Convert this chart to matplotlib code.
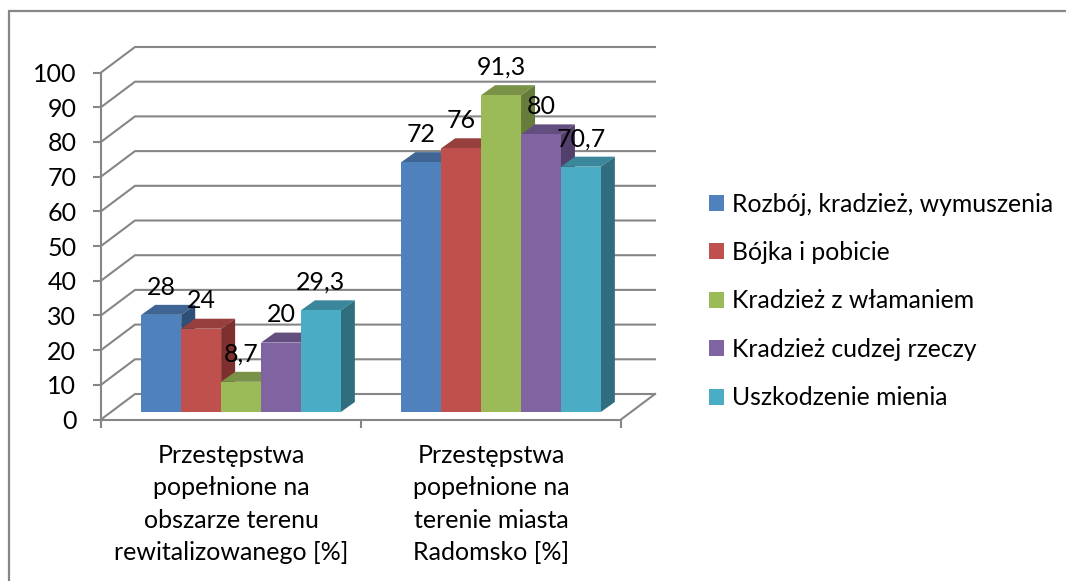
import matplotlib
matplotlib.use('Agg')
import matplotlib.pyplot as plt
from matplotlib.patches import Patch

plt.rcParams['font.family'] = ['Lato', 'DejaVu Sans']

# Data
categories = ['Przestępstwa\npopełnione na\nobszarze terenu\nrewitalizowanego [%]',
              'Przestępstwa\npopełnione na\nterenie miasta\nRadomsko [%]']
series_names = ['Rozbój, kradzież, wymuszenia', 'Bójka i pobicie', 'Kradzież z włamaniem',
                'Kradzież cudzej rzeczy', 'Uszkodzenie mienia']
rozboj = [28, 72]
bojka = [24, 76]
wlamanie = [8.7, 91.3]
cudza = [20, 80]
mienie = [29.3, 70.7]
series_values = [rozboj, bojka, wlamanie, cudza, mienie]
y_ticks = list(range(0, 101, 10))

front_colors = ['#4F81BD', '#C0504D', '#9BBB59', '#8064A2', '#4BACC6']
top_colors = ['#3E6594', '#963F3C', '#799248', '#644E80', '#3A879B']
side_colors = ['#2F4F76', '#7D302E', '#657C3A', '#533F6B', '#2F6D7F']
line_color = '#868686'

W, H = 1066, 581
fig = plt.figure(figsize=(W / 100, H / 100), dpi=100)

# Frame round the chart: left and top only, the rest is cut off in the picture
fig.add_artist(plt.Line2D([8.5 / W, 8.5 / W, 1], [0, 1 - 10.5 / H, 1 - 10.5 / H],
                          transform=fig.transFigure, color=line_color, lw=1.6,
                          solid_joinstyle='miter'))

# Axes: the front plane of the 3D box
ax = fig.add_axes([101 / W, 1 - 419.5 / H, 520 / W, 347 / H])
ax.set_xlim(0, 2)
ax.set_ylim(0, 100)
ax.patch.set_visible(False)
for s in ['top', 'right']:
    ax.spines[s].set_visible(False)
for s in ['left', 'bottom']:
    ax.spines[s].set_color(line_color)
    ax.spines[s].set_linewidth(1.5)

# pixels to data units
px_x = 2 / 520
px_y = 100 / 347

# Walls and gridlines, sheared back
wall_dx = 34 * px_x
wall_dy = 25.5 * px_y
for v in y_ticks:
    ax.plot([0, wall_dx, 2 + wall_dx], [v, v + wall_dy, v + wall_dy], color=line_color,
            lw=1.5, clip_on=False, zorder=1, solid_joinstyle='miter')
ax.plot([2, 2 + wall_dx], [0, wall_dy], color=line_color, lw=1.5, clip_on=False, zorder=1)

# Bars: front from ax.bar, then top and side as sheared polygons
bar_w = 0.1535
start = 0.155
base = 7.5 * px_y
depth_x = 14 * px_x
depth_y = 10 * px_y
z = 2
for i in range(len(categories)):
    for j, vals in enumerate(series_values):
        v = vals[i]
        x0 = i + start + j * bar_w
        x1 = x0 + bar_w
        top = base + v
        ax.fill([x0, x0 + depth_x, x1 + depth_x, x1], [top, top + depth_y, top + depth_y, top],
                color=top_colors[j], lw=0, clip_on=False, zorder=z)
        ax.fill([x1, x1 + depth_x, x1 + depth_x, x1], [base, base + depth_y, top + depth_y, top],
                color=side_colors[j], lw=0, clip_on=False, zorder=z)
        ax.bar(x0, v, bar_w, bottom=base, align='edge', color=front_colors[j], clip_on=False, zorder=z + 0.5)
        z += 1

# Data labels
for i in range(len(categories)):
    for j, vals in enumerate(series_values):
        v = vals[i]
        ax.annotate(str(v).replace('.', ','), (i + start + (j + 0.5) * bar_w, base + v), xytext=(0, 20),
                    textcoords='offset points', ha='center', va='center', fontsize=18,
                    color='black', zorder=100, annotation_clip=False)

# Axis ticks
ax.set_yticks(y_ticks)
ax.set_xticks([0, 1, 2])
ax.set_xticklabels([])
ax.tick_params(axis='both', which='major', color=line_color, width=1.5, length=5.8)
ax.tick_params(axis='y', labelsize=18, pad=12)
ax.set_xticks([0.5, 1.5], minor=True)
ax.set_xticklabels(categories, minor=True, fontsize=18, linespacing=1.5)
ax.tick_params(axis='x', which='minor', length=0, pad=17.5)

# Legend
handles = [Patch(facecolor=c, edgecolor='none') for c in front_colors]
fig.legend(handles, series_names, loc='center left', bbox_to_anchor=(709 / W, 1 - 301 / H),
           frameon=False, fontsize=17.8, handlelength=0.6, handleheight=0.6, handletextpad=0.32,
           labelspacing=1.03, borderpad=0, borderaxespad=0)

fig.savefig('out.png', dpi=100)
